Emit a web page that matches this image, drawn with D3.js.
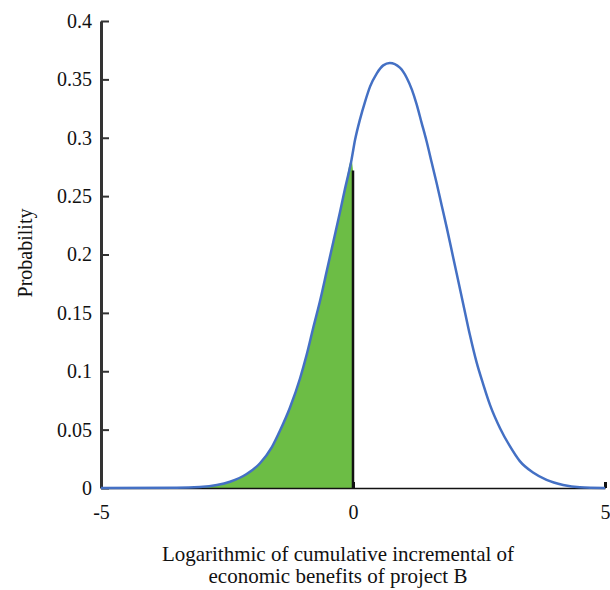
<!DOCTYPE html>
<html>
<head>
<meta charset="utf-8">
<script src="https://cdn.jsdelivr.net/npm/d3@7"></script>
<style>
  body { margin: 0; background: #fff; }
  text { font-family: "Liberation Serif", "Times New Roman", serif; fill: #111; }
</style>
</head>
<body>
<div id="chart"></div>
<script>
// values
var curveX = [-5, -3.5, -3.04, -2.7, -2.44, -2.11, -1.85, -1.61, -1.45, -1.25, -1.05, -0.92, -0.79, -0.65, -0.52, -0.39, -0.26, -0.16, -0.03,
              0.04, 0.14, 0.24, 0.34, 0.47, 0.6, 0.73, 0.93, 1.07, 1.17, 1.26, 1.36, 1.46, 1.56, 1.66, 1.76, 1.86, 1.99,
              2.06, 2.19, 2.32, 2.45, 2.59, 2.72, 2.92, 3.11, 3.31, 3.58, 3.84, 4.17, 4.5, 5];
var curveY = [0, 0.0002, 0.0008, 0.0025, 0.0054, 0.012, 0.021, 0.035, 0.049, 0.069, 0.094, 0.114, 0.137, 0.161, 0.186, 0.211, 0.236, 0.256, 0.281,
              0.298, 0.316, 0.331, 0.344, 0.355, 0.362, 0.364, 0.36, 0.351, 0.341, 0.329, 0.313, 0.297, 0.279, 0.261, 0.242, 0.223, 0.197,
              0.183, 0.157, 0.131, 0.108, 0.088, 0.071, 0.051, 0.036, 0.023, 0.013, 0.0069, 0.0026, 0.0006, 0];
var cutX = 0, cutY = 0.272;
var xTicks = [-5, 0, 5];
var yTicks = [0, 0.05, 0.1, 0.15, 0.2, 0.25, 0.3, 0.35, 0.4];
var xLabel = ["Logarithmic of cumulative incremental of", "economic benefits of project B"];
var yLabel = "Probability";

var svg = d3.select("#chart").append("svg")
            .attr("width", 610)
            .attr("height", 590);
var margin = {top: 21, right: 5, bottom: 102, left: 101},
    width = svg.attr("width") - margin.left - margin.right,
    height = svg.attr("height") - margin.top - margin.bottom,
    g = svg.append("g").attr("transform", "translate(" + margin.left + "," + margin.top + ")");

var x = d3.scaleLinear().domain([-5, 5]).range([0, width]);
var y = d3.scaleLinear().domain([0, 0.4]).range([height, 0]);

var pts = curveX.map(function(d, i) { return [d, curveY[i]]; });

// green area left of the cut
var fillPts = pts.filter(function(p) { return p[0] < cutX; });
fillPts.push([cutX, cutY]);
g.append("path")
  .datum(fillPts)
  .attr("fill", "#6cbd45")
  .attr("d", d3.area()
      .x(function(d) { return x(d[0]); })
      .y0(y(0))
      .y1(function(d) { return y(d[1]); })
      .curve(d3.curveMonotoneX));

// x axis
var xAxis = g.append("g")
  .attr("transform", "translate(0," + height + ")")
  .call(d3.axisBottom(x).tickValues(xTicks).tickFormat(function(d) { return String(d); })
        .tickSizeInner(-6).tickSizeOuter(0).tickPadding(17));
xAxis.select(".domain").attr("stroke", "#111").attr("stroke-width", 1.5);
xAxis.selectAll(".tick line").attr("stroke", "#111").attr("stroke-width", 3);
xAxis.selectAll("text").attr("font-size", 20).attr("fill", "#111");

// y axis
var yAxis = g.append("g")
  .call(d3.axisLeft(y).tickValues(yTicks).tickFormat(d3.format("")).tickSizeInner(-8).tickSizeOuter(0).tickPadding(9));
yAxis.select(".domain").attr("stroke", "#333").attr("stroke-width", 3);
yAxis.selectAll(".tick line").attr("stroke", "#333").attr("stroke-width", 2);
yAxis.selectAll("text").attr("font-size", 20).attr("fill", "#111");

// cut line
g.append("line")
  .attr("x1", x(cutX)).attr("x2", x(cutX))
  .attr("y1", y(0)).attr("y2", y(cutY))
  .attr("stroke", "#111")
  .attr("stroke-width", 2.5);

// density curve
g.append("path")
  .datum(pts)
  .attr("fill", "none")
  .attr("stroke", "#4470c4")
  .attr("stroke-width", 2.5)
  .attr("d", d3.line()
      .x(function(d) { return x(d[0]); })
      .y(function(d) { return y(d[1]); })
      .curve(d3.curveMonotoneX));

// titles
svg.selectAll(".xlab")
  .data(xLabel)
  .enter()
  .append("text")
  .attr("class", "xlab")
  .attr("x", 338)
  .attr("y", function(d, i) { return 561 + i * 22; })
  .attr("text-anchor", "middle")
  .attr("font-size", 21)
  .text(function(d) { return d; });

svg.append("text")
  .attr("transform", "translate(32,253) rotate(-90)")
  .attr("text-anchor", "middle")
  .attr("font-size", 20)
  .text(yLabel);
</script>
</body>
</html>
